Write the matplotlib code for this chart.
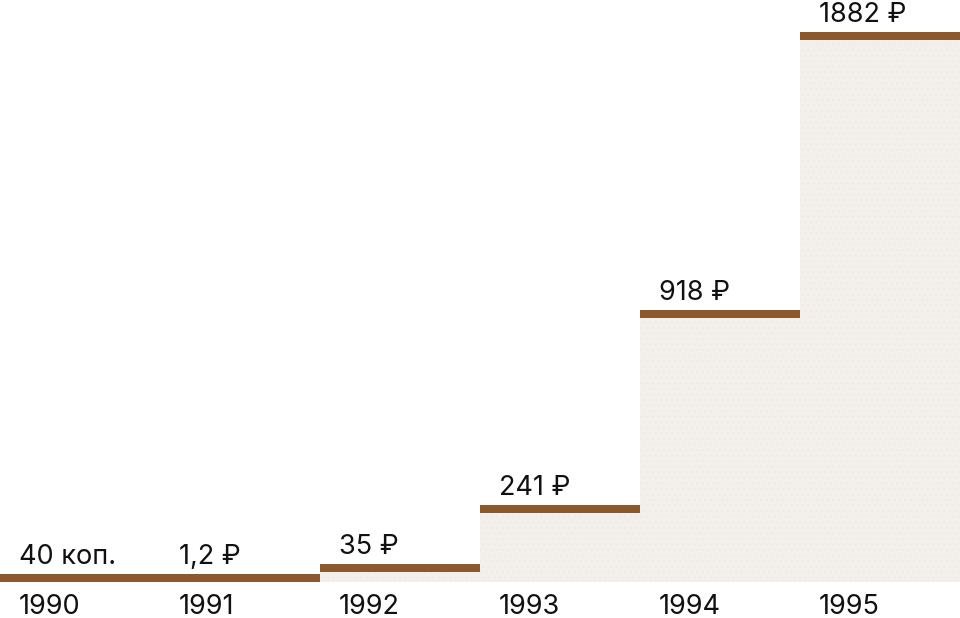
import matplotlib.pyplot as plt
import numpy as np

years = ['1990', '1991', '1992', '1993', '1994', '1995']
prices = [0.4, 1.2, 35, 241, 918, 1882]
labels = ['40 коп.', '1,2 ₽', '35 ₽', '241 ₽', '918 ₽', '1882 ₽']

fill_color = '#f3efeb'
line_color = '#8c582d'

plt.rcParams['font.family'] = ['Inter', 'DejaVu Sans']
plt.rcParams['hatch.linewidth'] = 0.5

fig = plt.figure(figsize=(9.6, 6.18), dpi=100)
# axes: full width, baseline at 582 px from the top
ax = fig.add_axes([0, 36 / 618, 1, 582 / 618])
ax.set_xlim(0, len(years))
ax.set_ylim(0, 2021)
ax.axis('off')

x = np.arange(len(years))
# thickness of the brown line, 8 px, in data units
px = 2021 / 582
thick = 8 * px

ax.bar(x, prices, width=1, align='edge', color=fill_color,
       edgecolor='#eee9e3', hatch='...', linewidth=0)
ax.bar(x, [thick] * len(x), bottom=prices, width=1, align='edge',
       color=line_color, linewidth=0)

for i, (yr, v, lab) in enumerate(zip(years, prices, labels)):
    ax.annotate(lab, (x[i], v + thick), xytext=(19, 10),
                textcoords='offset pixels', fontsize=19.5,
                color='#111111', va='baseline', ha='left',
                annotation_clip=False)
    ax.annotate(yr, (x[i], 0), xytext=(19, -32),
                textcoords='offset pixels', fontsize=19.5,
                color='#111111', va='baseline', ha='left',
                annotation_clip=False)

plt.savefig('out.png', dpi=100)
